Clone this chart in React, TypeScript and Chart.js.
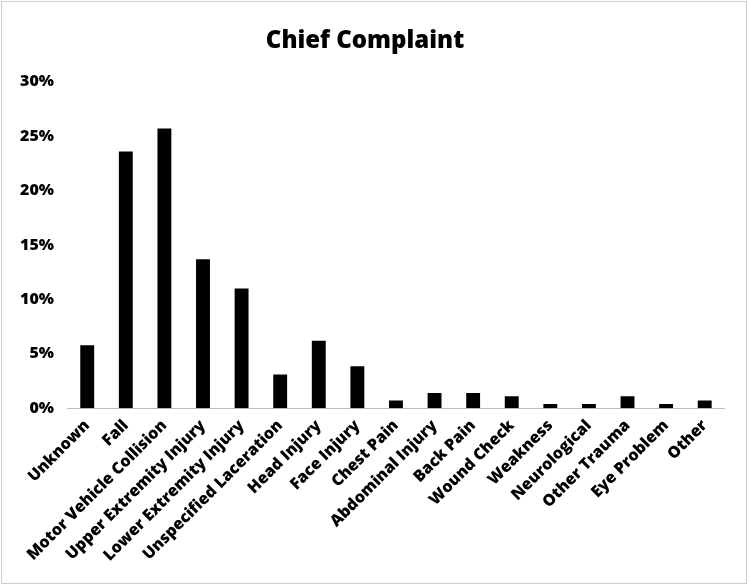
import React, { useEffect, useRef } from "react";
import { Chart, registerables } from "chart.js";

Chart.register(...registerables);

const categories = [
  "Unknown",
  "Fall",
  "Motor Vehicle Collision",
  "Upper Extremity Injury",
  "Lower Extremity Injury",
  "Unspecified Laceration",
  "Head Injury",
  "Face Injury",
  "Chest Pain",
  "Abdominal Injury",
  "Back Pain",
  "Wound Check",
  "Weakness",
  "Neurological",
  "Other Trauma",
  "Eye Problem",
  "Other",
];

const percentages = [5.8, 23.6, 25.7, 13.7, 11.0, 3.1, 6.2, 3.85, 0.7, 1.4, 1.4, 1.1, 0.4, 0.4, 1.1, 0.4, 0.7];

const yTicks = [0, 5, 10, 15, 20, 25, 30];

export default function App() {
  const ref = useRef<HTMLCanvasElement | null>(null);

  useEffect(() => {
    if (!ref.current) return;
    const chart = new Chart(ref.current, {
      type: "bar",
      data: {
        labels: categories,
        datasets: [
          {
            data: percentages,
            backgroundColor: "#000000",
            borderWidth: 0,
            barPercentage: 0.36,
            categoryPercentage: 1,
          },
        ],
      },
      options: {
        animation: false,
        responsive: false,
        layout: { padding: { left: 4, right: 22, top: 10, bottom: 10 } },
        plugins: {
          legend: { display: false },
          tooltip: { enabled: false },
          title: {
            display: true,
            text: "Chief Complaint",
            color: "#000",
            font: { family: "Open Sans", size: 24, weight: "800" },
            padding: { top: 15, bottom: 26 },
          },
        },
        scales: {
          x: {
            grid: { display: false, drawTicks: false },
            border: { display: true, color: "#bfbfbf", width: 1 },
            ticks: {
              color: "#000",
              font: { family: "Open Sans", size: 16, weight: "800" },
              minRotation: 45,
              maxRotation: 45,
              autoSkip: false,
              padding: 8,
            },
          },
          y: {
            min: 0,
            max: 30,
            afterBuildTicks: (axis: any) => {
              axis.ticks = yTicks.map((v) => ({ value: v }));
            },
            grid: { display: false, drawTicks: false },
            border: { display: false },
            ticks: {
              color: "#000",
              font: { family: "Open Sans", size: 16, weight: "800" },
              padding: 14,
              callback: (v: any) => v + "%",
            },
          },
        },
      },
    });
    return () => chart.destroy();
  }, []);

  return (
    <div
      style={{
        position: "fixed",
        left: 1,
        top: 1,
        width: 746,
        height: 583,
        border: "1px solid #cfcfcf",
        background: "#fff",
        boxSizing: "border-box",
      }}
    >
      <canvas ref={ref} width={744} height={581} style={{ display: "block" }} />
    </div>
  );
}
